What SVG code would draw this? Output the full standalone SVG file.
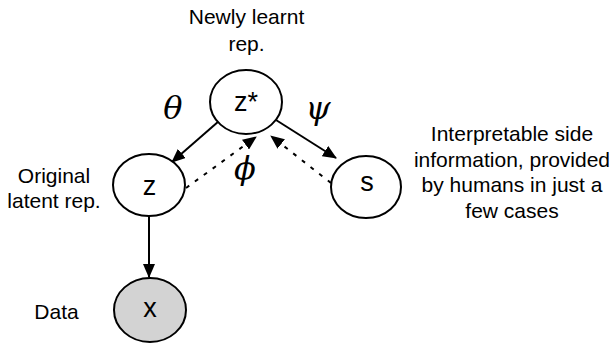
<svg xmlns="http://www.w3.org/2000/svg" width="615" height="346" viewBox="0 0 615 346">
<style>
.node{fill:#fff;stroke:#000;stroke-width:2}
.obs{fill:#d3d3d3;stroke:#000;stroke-width:2}
.lbl{font-family:"Liberation Sans",Arial,sans-serif;font-size:27px;text-anchor:middle}
.txt{font-family:"Liberation Sans",Arial,sans-serif;font-size:21px;text-anchor:middle;fill:#000}
.greek{font-family:"DejaVu Serif","Liberation Serif",serif;font-style:italic;font-size:32px;text-anchor:middle}
.edge{stroke:#000;stroke-width:2;fill:none}
.dash{stroke:#000;stroke-width:2;fill:none;stroke-dasharray:4,7}
</style>
<defs>
<marker id="ahb" markerWidth="14" markerHeight="12" refX="13" refY="6" orient="auto" markerUnits="userSpaceOnUse" viewBox="0 0 14 12">
<path d="M0,0 L14,6 L0,12 z" fill="#000"/>
</marker>
</defs>
<g id="connectors">
<line class="edge" x1="219" y1="121" x2="172" y2="162" marker-end="url(#ahb)"/>
<line class="edge" x1="276" y1="120" x2="336" y2="158" marker-end="url(#ahb)"/>
<line class="dash" x1="186" y1="188" x2="256" y2="137" marker-end="url(#ahb)"/>
<line class="dash" x1="331" y1="183" x2="271" y2="136" marker-end="url(#ahb)"/>
<line class="edge" x1="149" y1="216" x2="149" y2="277" marker-end="url(#ahb)"/>
</g>
<g id="zstar">
<ellipse class="node" cx="246" cy="102" rx="36" ry="32"/>
<text class="lbl" x="246" y="111">z*</text>
</g>
<g id="z">
<ellipse class="node" cx="149" cy="185" rx="36" ry="31"/>
<text class="lbl" x="149.5" y="195">z</text>
</g>
<g id="s">
<ellipse class="node" cx="366" cy="187" rx="35" ry="31"/>
<text class="lbl" x="367" y="191">s</text>
</g>
<g id="x">
<ellipse class="obs" cx="150" cy="310" rx="36" ry="32"/>
<text class="lbl" x="150" y="317">x</text>
</g>
<g id="labels">
<text class="txt" x="246.5" y="24">Newly learnt</text>
<text class="txt" x="246.5" y="51">rep.</text>
<text class="txt" x="54" y="183">Original</text>
<text class="txt" x="54" y="208">latent rep.</text>
<text class="txt" x="56.5" y="319">Data</text>
<text class="txt" x="512" y="141">Interpretable side</text>
<text class="txt" x="512" y="166.5">information, provided</text>
<text class="txt" x="512" y="192">by humans in just a</text>
<text class="txt" x="512" y="217.5">few cases</text>
<text class="greek" x="173" y="119">θ</text>
<text class="greek" x="318" y="119">ψ</text>
<text class="greek" x="245" y="179">ϕ</text>
</g>
</svg>
